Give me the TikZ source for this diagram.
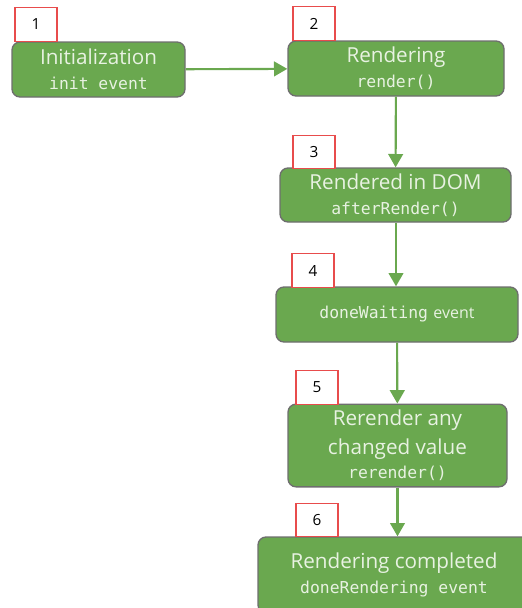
\documentclass[tikz,border=0pt]{standalone}
\usepackage{fontspec}
\setmainfont{Open Sans}
\setmonofont{DejaVu Sans Mono}
\usetikzlibrary{arrows.meta}

\definecolor{stepgreen}{HTML}{6AA84F}
\definecolor{steptext}{HTML}{E8F2E2}
\definecolor{stepedge}{HTML}{6E6E6E}
\definecolor{numred}{HTML}{E84C4C}

\tikzset{
  stagebox/.style={draw=stepedge, line width=1pt, fill=stepgreen, rounded corners=6pt,
    text=steptext, align=center, font=\fontsize{15.5}{22}\selectfont, inner sep=0pt},
  numbox/.style={draw=numred, line width=0.8pt, fill=white, minimum width=31.5pt,
    minimum height=25pt, inner sep=0pt, font=\fontsize{11.5}{12}\selectfont},
  flow/.style={draw=stepgreen, line width=1.6pt, -{Triangle[width=11pt,length=10pt]}},
}
\newcommand{\code}[1]{{\fontsize{12.3}{13}\selectfont\ttfamily #1}}

\begin{document}
\begin{tikzpicture}[x=0.75pt, y=-0.75pt]
        \useasboundingbox (0,0) rectangle (522,608);
        \clip (0,0) rectangle (522,608);

        % Stages
        \node[stagebox, minimum width=129.75pt, minimum height=41.25pt] (init) at (98.5,69.5)
          {Initialization\\[-3pt]\code{init event}};
        \node[stagebox, minimum width=162pt, minimum height=41.25pt] (render) at (396,68.5)
          {Rendering\\[-3pt]\code{render()}};
        \node[stagebox, minimum width=173.25pt, minimum height=40.5pt] (indom) at (395.5,195)
          {Rendered in DOM\\[-3pt]\code{afterRender()}};
        \node[stagebox, minimum width=181.5pt, minimum height=41.25pt] (waiting) at (397,314.5)
          {\code{doneWaiting} {\fontsize{12}{13}\selectfont event}};
        \node[stagebox, minimum width=164.25pt, minimum height=62pt] (rerender) at (397.5,445.5)
          {Rerender any\\changed value\\[-4pt]\code{rerender()}};
        \node[stagebox, minimum width=204pt, minimum height=57pt] (done) at (394,575)
          {Rendering completed\\[-3pt]\code{doneRendering event}};

        % Step numbers
        \node[numbox] (n1) at (36,24.5) {1};
        \node[numbox] (n2) at (314,23.5) {2};
        \node[numbox] (n3) at (314,152) {3};
        \node[numbox] (n4) at (313,270.5) {4};
        \node[numbox] (n5) at (317,387.5) {5};
        \node[numbox] (n6) at (317,520) {6};

        % Flow
        \draw[flow] (init) -- (render);
        \draw[flow] (render) -- (indom);
        \draw[flow] (indom.south -| render.south) -- (waiting.north -| render.south);
        \draw[flow] (waiting) -- (rerender);
        \draw[flow] (rerender) -- (rerender |- done.north);
    \end{tikzpicture}
\end{document}
